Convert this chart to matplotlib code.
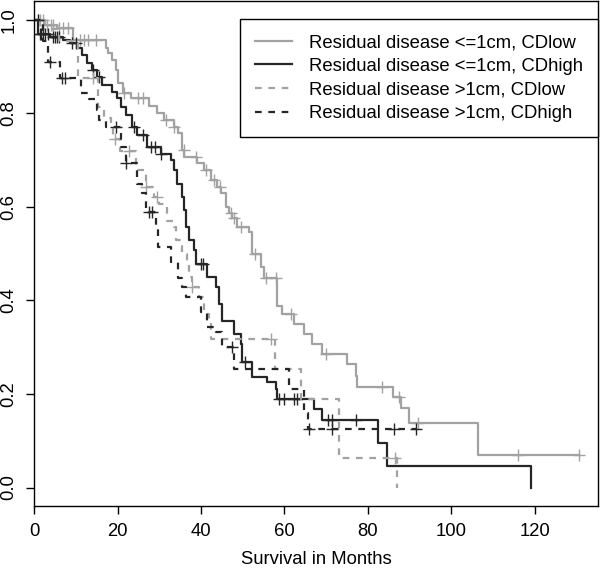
import numpy as np
import matplotlib
matplotlib.use("Agg")
import matplotlib.pyplot as plt

plt.rcParams['font.family'] = ['Liberation Sans', 'DejaVu Sans']

# Kaplan-Meier step curves: event times (months) and survival after each step
lo_low_t = [0, 2.5, 5.5, 9.4, 17.1, 17.8, 18.7, 19.5, 20.2, 21.4, 23.1, 27.4, 29.5, 31.1, 33.5, 34.5,
            35.5, 35.9, 39.1, 40.6, 42.3, 43.9, 44.7, 45.9, 46.6, 47.4, 48.7, 51.5, 52.3, 54.3, 55.1,
            58.3, 59.5, 62.2, 64.6, 66.7, 69.1, 75.1, 77.1, 77.5, 85.9, 87.9, 89.9, 106.4]
lo_low_s = [1.0, 0.99, 0.983, 0.957, 0.94, 0.93, 0.914, 0.893, 0.865, 0.843, 0.833, 0.815, 0.80, 0.786,
            0.771, 0.758, 0.721, 0.707, 0.693, 0.679, 0.657, 0.643, 0.629, 0.60, 0.586, 0.576, 0.557,
            0.546, 0.50, 0.471, 0.447, 0.389, 0.371, 0.35, 0.329, 0.307, 0.286, 0.265, 0.239, 0.216,
            0.193, 0.171, 0.139, 0.07]
lo_low_end = 130.5
lo_low_cens = [1, 1.5, 2, 3, 4, 4.5, 6, 7, 8, 11, 12, 13, 14.9, 21.5, 25, 26.2, 31.5, 33.5, 35.8, 38.9,
               41.1, 43.2, 44.5, 47.1, 47.8, 49.5, 53, 55.5, 58, 61.5, 70, 83.3, 87.5, 91.9, 116, 130.5]

lo_high_t = [0, 1.0, 3.9, 7.0, 8.7, 10.3, 11.5, 12.7, 13.9, 15.1, 16.3, 18.7, 19.9, 20.7, 21.9, 23.5,
             24.7, 27.1, 30.3, 32.7, 33.5, 34.3, 35.5, 35.9, 36.5, 37.1, 38.3, 38.7, 41.5, 43.5, 44.3,
             45.1, 47.9, 49.5, 49.9, 52.3, 55.9, 57.9, 58.3, 67.1, 69.1, 82.3, 84.5, 119.2]
lo_high_s = [1.0, 0.97, 0.964, 0.957, 0.95, 0.94, 0.925, 0.908, 0.893, 0.878, 0.861, 0.846, 0.833, 0.814,
             0.796, 0.771, 0.754, 0.729, 0.714, 0.70, 0.679, 0.65, 0.621, 0.593, 0.557, 0.529, 0.507,
             0.479, 0.45, 0.429, 0.393, 0.357, 0.329, 0.307, 0.268, 0.236, 0.225, 0.211, 0.189, 0.168,
             0.144, 0.096, 0.046, 0.0]
lo_high_end = 119.2
lo_high_cens = [0.8, 1.3, 1.7, 2.2, 2.7, 3.2, 4.5, 5, 5.5, 6, 9, 10, 14, 15.5, 24, 26, 28, 29, 30.5,
                39.9, 40.5, 50.5, 58.6, 60, 62.2, 63.1, 70.5, 71.5, 77.1]

hi_low_t = [0, 2, 6, 10.5, 15.2, 16.8, 18.3, 19, 20.5, 24.5, 26.7, 28.7, 29.9, 31.9, 33.5, 33.9, 35.5,
            36.7, 37.1, 37.9, 39.5, 40.7, 41.9, 42.3, 57.7, 63.9, 73.1, 86.9]
hi_low_s = [1.0, 0.98, 0.955, 0.875, 0.814, 0.79, 0.769, 0.745, 0.72, 0.68, 0.643, 0.621, 0.607, 0.571,
            0.557, 0.529, 0.50, 0.479, 0.45, 0.429, 0.407, 0.371, 0.35, 0.318, 0.254, 0.189, 0.063, 0.0]
hi_low_end = 86.9
hi_low_cens = [14.2, 19.3, 22.8, 26.8, 29.5, 37.9, 56.7, 86.5]

hi_high_t = [0, 2.2, 3.3, 6.2, 11.3, 13.1, 15.1, 15.5, 17.1, 20.7, 21.9, 24.7, 25.9, 26.8, 29.2, 29.6,
             32.7, 34.5, 35.5, 36.3, 39.9, 41.5, 43.5, 45.1, 47.9, 61.1, 64.6, 65.6]
hi_high_s = [1.0, 0.955, 0.91, 0.875, 0.844, 0.83, 0.807, 0.786, 0.771, 0.729, 0.693, 0.65, 0.629, 0.589,
             0.553, 0.514, 0.482, 0.447, 0.429, 0.407, 0.375, 0.343, 0.332, 0.30, 0.254, 0.211, 0.16,
             0.125]
hi_high_end = 91.5
hi_high_cens = [3.8, 6.7, 7.5, 19.5, 22, 27.4, 28.3, 47.5, 65.8, 71.5, 86.3, 91.5]

labels = ["Residual disease <=1cm, CDlow", "Residual disease <=1cm, CDhigh",
          "Residual disease >1cm, CDlow", "Residual disease >1cm, CDhigh"]

light = '#a2a2a2'
dark = '#262626'

fig = plt.figure(figsize=(6.0, 5.74), dpi=100)
ax = fig.add_axes([0.057, 0.118, 0.94, 0.88])

curves = [
    (lo_low_t, lo_low_s, lo_low_end, lo_low_cens, light, '-'),
    (lo_high_t, lo_high_s, lo_high_end, lo_high_cens, dark, '-'),
    (hi_low_t, hi_low_s, hi_low_end, hi_low_cens, light, '--'),
    (hi_high_t, hi_high_s, hi_high_end, hi_high_cens, dark, '--'),
]

for (t, s, end, cens, col, ls), lab in zip(curves, labels):
    t = np.array(t)
    s = np.array(s)
    tx = np.append(t, end)
    sx = np.append(s, s[-1])
    line, = ax.step(tx, sx, where='post', color=col, lw=1.6, label=lab)
    if ls == '--':
        line.set_dashes((3, 3))
    # censor marks sit on the curve
    c = np.array(cens)
    sc = s[np.searchsorted(t, c, side='right') - 1]
    ax.plot(c, sc, '+', color=col, ms=9, mew=1.0)

ax.set_xlim(0, 135.2)
ax.set_ylim(-0.04, 1.04)
ax.set_xticks([0, 20, 40, 60, 80, 100, 120])
ax.set_yticks([0.0, 0.2, 0.4, 0.6, 0.8, 1.0])
ax.set_yticklabels(['0.0', '0.2', '0.4', '0.6', '0.8', '1.0'], rotation=90, va='center')
ax.tick_params(axis='both', labelsize=13.3, length=6, width=1, direction='out')
ax.tick_params(axis='x', pad=6)
ax.tick_params(axis='y', pad=6)
for sp in ax.spines.values():
    sp.set_linewidth(1.0)
ax.set_xlabel('Survival in Months', fontsize=13.3, labelpad=8)

leg = ax.legend(loc='upper right', bbox_to_anchor=(1.0, 0.964), fontsize=13.3, frameon=True,
                fancybox=False, edgecolor='black', framealpha=1, borderaxespad=0,
                handlelength=2.0, handletextpad=0.95, labelspacing=0.36, borderpad=0.8)
leg.get_frame().set_linewidth(1.0)

fig.savefig('out.png', dpi=100)
